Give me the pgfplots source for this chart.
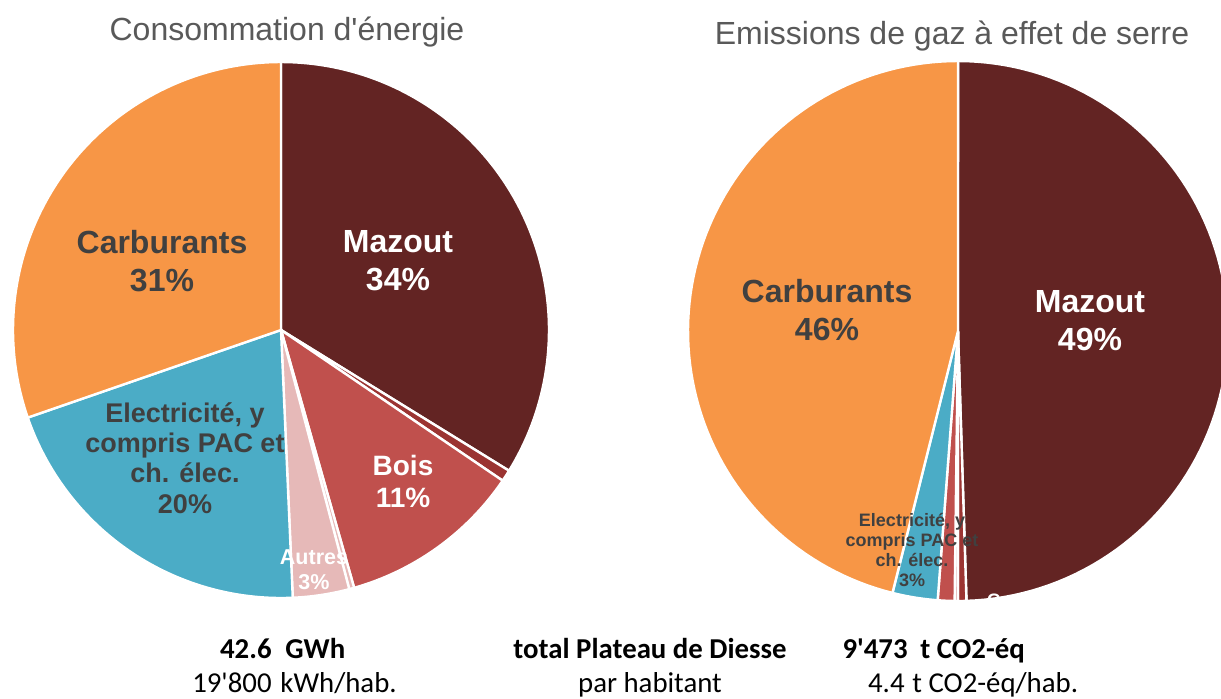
\documentclass[border=0pt]{standalone}
\usepackage{pgfplots}
\pgfplotsset{compat=1.18}
\usepackage{fontspec}
\setmainfont{Liberation Sans}[Ligatures=TeXOff]
\newfontfamily\calibri{Carlito}[Ligatures=TeXOff]

\definecolor{mazout}{HTML}{632423}
\definecolor{gaz}{HTML}{9B3432}
\definecolor{bois}{HTML}{C0504D}
\definecolor{autres}{HTML}{E6B9B8}
\definecolor{elec}{HTML}{4BACC6}
\definecolor{carb}{HTML}{F79646}
\definecolor{lbl}{HTML}{404040}
\definecolor{ttl}{HTML}{595959}

% one slice: centre x, centre y, radius, from %, to %, colour (pixel units, clockwise from top)
\newcommand{\slice}[6]{%
  \addplot[fill=#6, draw=white, line width=1.2pt, domain={90-3.6*#5}:{90-3.6*#4}, samples=90]
    ({#1+#3*cos(x)}, {#2-#3*sin(x)}) -- (axis cs:#1,#2) -- cycle;
}
\newcommand{\tot}{\calibri\fontsize{14.4}{16}\selectfont}

\begin{document}
\begin{tikzpicture}
\begin{axis}[
    width=610.5pt, height=349pt,
    scale only axis,
    xmin=0, xmax=1221, ymin=0, ymax=698,
    y dir=reverse,
    hide axis,
]
\addplot[draw=none] coordinates {(0,0) (1221,698)};

% Consommation d'energie (cumulated shares, %)
\slice{281}{330}{268}{0}{33.8}{mazout}
\slice{281}{330}{268}{33.8}{34.5}{gaz}
\slice{281}{330}{268}{34.5}{45.6}{bois}
\slice{281}{330}{268}{45.6}{45.9}{autres}
\slice{281}{330}{268}{45.9}{49.3}{autres}
\slice{281}{330}{268}{49.3}{69.7}{elec}
\slice{281}{330}{268}{69.7}{100}{carb}

% Emissions de gaz a effet de serre
\slice{958}{331}{270}{0}{49.5}{mazout}
\slice{958}{331}{270}{49.5}{50.0}{gaz}
\slice{958}{331}{270}{50.0}{50.2}{autres}
\slice{958}{331}{270}{50.2}{51.2}{bois}
\slice{958}{331}{270}{51.2}{53.9}{elec}
\slice{958}{331}{270}{53.9}{100}{carb}

% titles
\node[anchor=base, text=ttl, font=\fontsize{16}{19}\selectfont] at (axis cs:287,40) {Consommation d'énergie};
\node[anchor=base, text=ttl, font=\fontsize{16}{19}\selectfont] at (axis cs:952,44) {Emissions de gaz à effet de serre};

% labels, left
\node[align=center, text=white, font=\fontsize{16}{19}\selectfont\bfseries] at (axis cs:398,261) {Mazout\\34\%};
\node[align=center, text=lbl, font=\fontsize{16}{19}\selectfont\bfseries] at (axis cs:162,261) {Carburants\\31\%};
\node[align=center, text=white, font=\fontsize{14}{16}\selectfont\bfseries] at (axis cs:403,481) {Bois\\11\%};
\node[align=center, text=lbl, font=\fontsize{13.5}{15.2}\selectfont\bfseries] at (axis cs:185,458) {Electricité, y\\compris PAC et\\ch. élec.\\20\%};
\node[align=center, text=white, font=\fontsize{10.75}{12.5}\selectfont\bfseries] at (axis cs:314,570) {Autres\\3\%};

% labels, right
\node[align=center, text=white, font=\fontsize{16}{19}\selectfont\bfseries] at (axis cs:1090,321) {Mazout\\49\%};
\node[align=center, text=lbl, font=\fontsize{16}{19}\selectfont\bfseries] at (axis cs:827,310) {Carburants\\46\%};
\node[align=center, text=lbl, font=\fontsize{9}{10}\selectfont\bfseries] at (axis cs:912,550) {Electricité, y\\compris PAC et\\ch. élec.\\3\%};
\node[anchor=west, text=white, font=\fontsize{9}{10}\selectfont\bfseries] at (axis cs:980,600) {Gaz};

% totals
\begin{scope}[every node/.style={inner sep=0pt}]
\node[anchor=base east, font=\tot\bfseries] at (axis cs:272,658) {42.6};
\node[anchor=base west, font=\tot\bfseries] at (axis cs:285,658) {GWh};
\node[anchor=base, font=\tot\bfseries] at (axis cs:650,658) {total Plateau de Diesse};
\node[anchor=base east, font=\tot\bfseries] at (axis cs:908,658) {9'473};
\node[anchor=base west, font=\tot\bfseries] at (axis cs:920,658) {t CO2-éq};
\node[anchor=base east, font=\tot] at (axis cs:272,692) {19'800};
\node[anchor=base west, font=\tot] at (axis cs:280,692) {kWh/hab.};
\node[anchor=base, font=\tot] at (axis cs:650,692) {par habitant};
\node[anchor=base east, font=\tot] at (axis cs:905,692) {4.4};
\node[anchor=base west, font=\tot] at (axis cs:912,692) {t CO2-éq/hab.};
\end{scope}
\end{axis}
\end{tikzpicture}
\end{document}
